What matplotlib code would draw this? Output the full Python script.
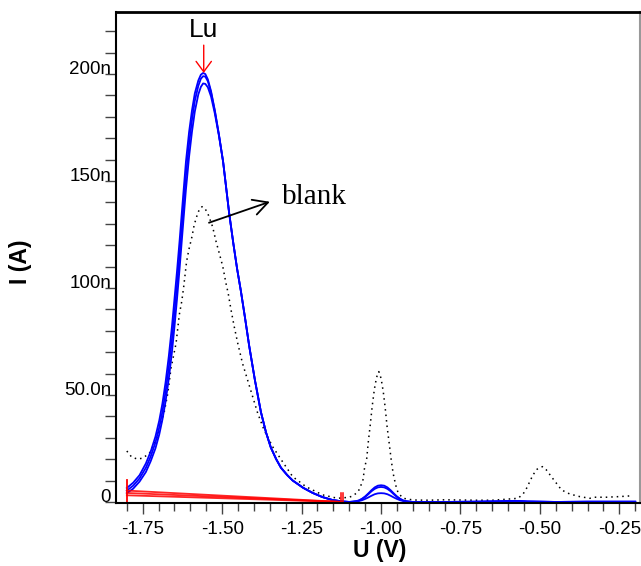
import matplotlib.pyplot as plt
import numpy as np

plt.rcParams['font.family'] = ['Liberation Sans', 'DejaVu Sans']
plt.rcParams['axes.unicode_minus'] = False

# Lu voltammograms (3 replicates), current in nA
u_lu = [-1.800, -1.780, -1.760, -1.740, -1.725, -1.710, -1.698, -1.688, -1.678, -1.668,
        -1.658, -1.650, -1.642, -1.634, -1.626, -1.614, -1.604, -1.595, -1.586, -1.575,
        -1.567, -1.560, -1.553, -1.545, -1.535, -1.523, -1.510, -1.497, -1.478, -1.465,
        -1.453, -1.441, -1.428, -1.415, -1.397, -1.378, -1.362, -1.347, -1.330, -1.315,
        -1.295, -1.278, -1.245, -1.215, -1.185, -1.153, -1.120, -1.100, -1.090, -1.080,
        -1.070, -1.060, -1.050, -1.040, -1.030, -1.020, -1.010, -1.000, -0.990, -0.980,
        -0.970, -0.960, -0.950, -0.940, -0.930, -0.920, -0.910, -0.900, -0.800, -0.700,
        -0.620, -0.580, -0.540, -0.450, -0.350, -0.200]
i_lu1 = [6.5, 9.0, 12.5, 18.0, 23.5, 30.5, 38.0, 46.0, 56.0, 68.0,
         82.0, 95.0, 108.0, 122.0, 137.0, 159.0, 173.0, 183.0, 191.0, 197.0,
         199.7, 200.5, 200.0, 197.5, 192.0, 183.0, 171.5, 159.0, 135.0, 121.0,
         109.0, 98.5, 86.0, 73.0, 57.0, 42.0, 32.5, 25.5, 20.0, 16.0,
         12.5, 10.0, 6.6, 4.2, 2.3, 0.9, 0.2, 0.0, 0.1, 0.3,
         0.7, 1.5, 2.6, 4.0, 5.5, 6.8, 7.6, 7.8, 7.6, 6.8,
         5.5, 4.0, 2.6, 1.5, 0.7, 0.3, 0.1, 0.0, 0.0, 0.1,
         0.3, 0.5, 0.2, 0.0, 0.1, 0.1]
i_lu2 = [5.3, 7.6, 11.0, 16.0, 21.2, 27.8, 34.8, 42.2, 51.5, 62.8,
         76.0, 88.5, 101.5, 115.5, 130.5, 152.5, 167.5, 178.5, 187.5, 194.5,
         197.8, 199.0, 198.8, 196.6, 191.4, 182.6, 171.5, 159.0, 135.0, 121.0,
         109.0, 98.5, 86.0, 73.0, 57.0, 42.0, 32.5, 25.5, 20.0, 16.0,
         12.5, 10.0, 6.6, 4.2, 2.3, 0.9, 0.2, 0.0, 0.1, 0.3,
         0.6, 1.3, 2.3, 3.6, 5.0, 6.1, 6.8, 7.0, 6.8, 6.1,
         5.0, 3.6, 2.3, 1.3, 0.6, 0.3, 0.1, 0.0, 0.0, 0.1,
         0.3, 0.5, 0.2, 0.0, 0.1, 0.1]
i_lu3 = [4.1, 6.2, 9.5, 14.0, 19.0, 25.0, 31.5, 38.5, 47.0, 57.5,
         70.0, 82.0, 95.0, 109.0, 124.0, 146.0, 161.5, 173.0, 182.5, 190.5,
         194.0, 195.6, 195.4, 193.8, 189.5, 181.5, 171.0, 159.0, 135.0, 121.0,
         109.0, 98.5, 86.0, 73.0, 57.0, 42.0, 32.5, 25.5, 20.0, 16.0,
         12.5, 10.0, 6.6, 4.2, 2.3, 0.9, 0.2, 0.0, 0.1, 0.2,
         0.4, 0.8, 1.4, 2.1, 2.9, 3.6, 4.0, 4.1, 4.0, 3.6,
         2.9, 2.1, 1.4, 0.8, 0.4, 0.2, 0.1, 0.0, 0.0, 0.1,
         0.3, 0.5, 0.2, 0.0, 0.1, 0.1]

# blank, current in nA
u_blank = [-1.800, -1.785, -1.766, -1.750, -1.729, -1.705, -1.682, -1.671, -1.661, -1.645,
           -1.635, -1.627, -1.621, -1.612, -1.605, -1.595, -1.588, -1.577, -1.570, -1.563,
           -1.556, -1.546, -1.530, -1.519, -1.509, -1.498, -1.488, -1.481, -1.472, -1.462,
           -1.451, -1.436, -1.420, -1.404, -1.388, -1.368, -1.341, -1.310, -1.278, -1.236,
           -1.184, -1.137, -1.114, -1.100, -1.088, -1.072, -1.064, -1.056, -1.053, -1.045,
           -1.040, -1.034, -1.028, -1.021, -1.014, -1.007, -1.000, -0.993, -0.987, -0.981,
           -0.974, -0.968, -0.962, -0.954, -0.946, -0.930, -0.899, -0.850, -0.800, -0.750,
           -0.700, -0.650, -0.611, -0.569, -0.553, -0.542, -0.532, -0.522, -0.509, -0.492,
           -0.480, -0.464, -0.448, -0.432, -0.406, -0.375, -0.343, -0.328, -0.291, -0.249,
           -0.218, -0.213]
i_blank = [23.8, 21.0, 20.0, 20.5, 22.7, 30.0, 42.2, 50.8, 62.5, 74.2,
           87.4, 93.9, 100.6, 112.3, 117.8, 124.0, 129.5, 134.9, 137.2, 138.0,
           137.5, 135.2, 128.6, 121.6, 116.2, 110.0, 102.2, 97.5, 89.7, 81.9,
           74.2, 64.8, 57.0, 49.2, 41.4, 33.6, 25.8, 18.8, 11.8, 7.1,
           3.3, 1.7, 2.0, 2.2, 2.9, 4.8, 7.5, 10.7, 15.0, 20.4,
           28.2, 36.0, 44.5, 52.7, 58.3, 60.9, 57.8, 51.5, 44.1, 35.2,
           27.0, 19.6, 13.4, 7.9, 4.1, 1.7, 0.9, 0.8, 1.0, 0.9,
           0.8, 0.8, 1.2, 1.7, 3.7, 6.4, 9.5, 12.6, 15.3, 16.5,
           15.0, 11.8, 8.7, 5.6, 3.7, 2.5, 1.7, 2.2, 2.2, 2.5,
           2.8, 3.7]

# peak baselines (red)
base_u = [-1.800, -1.125]
base_i = [[5.3, 0.0], [4.2, 0.0], [3.1, 0.0]]
mark_left = -1.800
mark_right = [-1.127, -1.121]

xticks = [-1.75, -1.50, -1.25, -1.00, -0.75, -0.50, -0.25]
xlabels = ['-1.75', '-1.50', '-1.25', '-1.00', '-0.75', '-0.50', '-0.25']
yticks = [0, 50, 100, 150, 200]
ylabels = ['0', '50.0n', '100n', '150n', '200n']

fig = plt.figure(figsize=(6.41, 5.66), dpi=100)
ax = fig.add_axes([0.181, 0.1113, 0.817, 0.8675])

ax.plot(u_blank, i_blank, color='black', lw=1.1, ls=(0, (1, 2.6)))
for ii in (i_lu1, i_lu2, i_lu3):
    ax.plot(u_lu, ii, color='#0000ff', lw=1.3)

for bi in base_i:
    ax.plot(base_u, bi, color='red', lw=1.3, alpha=0.85)
ax.plot([mark_left, mark_left], [0, 10.3], color='red', lw=1.3)
for m in mark_right:
    ax.plot([m, m], [0, 4.0], color='red', lw=1.1)

# Lu peak label
ax.annotate('', xy=(-1.558, 200.5), xytext=(-1.558, 213.5),
            arrowprops=dict(arrowstyle='->,head_length=0.75,head_width=0.55',
                            color='red', lw=1.0, mutation_scale=10,
                            shrinkA=0, shrinkB=0))
ax.text(-1.558, 220.5, 'Lu', ha='center', va='center', fontsize=19)

# blank label
ax.annotate('', xy=(-1.350, 140.3), xytext=(-1.5415, 130.5),
            arrowprops=dict(arrowstyle='->,head_length=0.75,head_width=0.4',
                            color='black', lw=1.3, mutation_scale=14,
                            shrinkA=0, shrinkB=0))
ax.text(-1.312, 139.4, 'blank', ha='left', va='baseline', fontsize=21,
        family='Liberation Serif')

ax.set_xlim(-1.834, -0.186)
ax.set_ylim(-0.5, 229)

ax.set_xticks(xticks)
ax.set_xticklabels(xlabels, fontsize=13.5)
ax.set_xticks(np.arange(-1.80, -0.19, 0.05), minor=True)
ax.set_yticks(yticks)
ax.set_yticklabels(ylabels, fontsize=13.5)
ax.set_yticks(np.arange(0, 221, 10), minor=True)
plt.setp(ax.get_yticklabels(), va='baseline')

ax.tick_params(axis='x', which='major', direction='out', length=8, width=1, color='#444444', pad=5)
ax.tick_params(axis='x', which='minor', direction='out', length=6, width=1, color='#444444')
ax.tick_params(axis='y', which='both', direction='out', length=8, width=1, color='#444444', pad=-4.5)

ax.spines['left'].set_linewidth(1.5)
ax.spines['bottom'].set_linewidth(1.5)
ax.spines['top'].set_linewidth(2)
ax.spines['right'].set_color('#999999')
ax.spines['right'].set_linewidth(1.5)

ax.set_xlabel('U (V)', fontsize=16.5, fontweight='bold')
ax.set_ylabel('I (A)', fontsize=16.5, fontweight='bold')
ax.xaxis.set_label_coords(0.504, -0.073)
ax.yaxis.set_label_coords(-0.16, 0.491)

plt.savefig('out.png', dpi=100)
